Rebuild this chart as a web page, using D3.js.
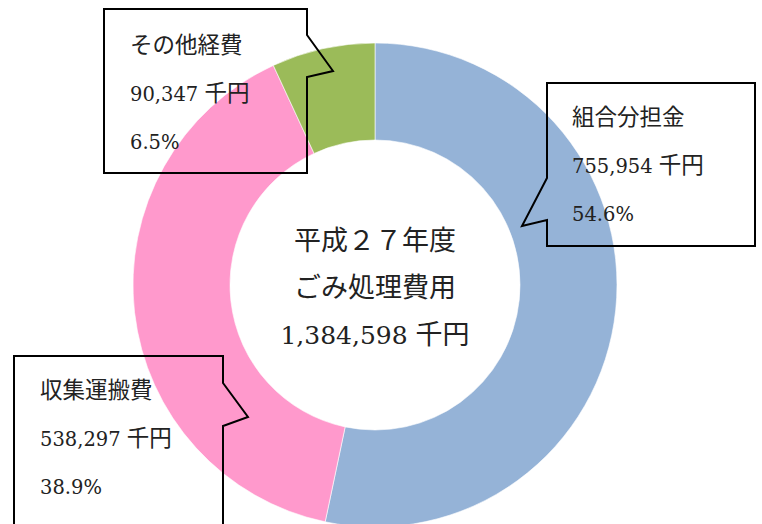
<!DOCTYPE html>
<html>
<head>
<meta charset="utf-8">
<script src="https://cdn.jsdelivr.net/npm/d3@7"></script>
<style>
  body { margin: 0; background: #fff; }
  svg { display: block; }
  text { fill: #222; }
</style>
</head>
<body>
<svg width="762" height="524"></svg>
<script>
// データ
var names = ["組合分担金", "収集運搬費", "その他経費"]
var values = [755954, 538297, 90347]
var percents = ["54.6%", "38.9%", "6.5%"]
// 図に描かれている扇形の割合
var drawnShare = [53.3, 39.8, 6.9]
var colors = ["#95B3D7", "#FF99CC", "#9BBB59"]
var centerLines = ["平成２７年度", "ごみ処理費用", "1,384,598 千円"]

var svg = d3.select("svg")
var cx = 375, cy = 285

var pie = d3.pie().sort(null).value(d => d)
var arc = d3.arc().innerRadius(145).outerRadius(242)

var ring = svg.append("g").attr("transform", "translate(" + cx + "," + cy + ")")
ring.selectAll("path").data(pie(drawnShare))
  .enter().append("path")
  .attr("d", arc)
  .attr("fill", (d, i) => colors[i])
  .attr("stroke", "#fff")
  .attr("stroke-width", 0.6)

// 英数字とそれ以外で書体を分ける
function addText(sel, str, cjkSize, numSize) {
  var runs = str.match(/[\x20-\x7e]+|[^\x20-\x7e]+/g)
  runs.forEach(r => {
    var ascii = /^[\x20-\x7e]+$/.test(r)
    sel.append("tspan")
      .attr("font-family", ascii ? "'DejaVu Serif', serif" : "'Noto Sans CJK JP', sans-serif")
      .attr("font-size", ascii ? numSize : cjkSize)
      .text(r)
  })
}

// 中央の文字
svg.append("g").selectAll("text").data(centerLines)
  .enter().append("text")
  .attr("x", cx)
  .attr("y", (d, i) => 250 + i * 47)
  .attr("text-anchor", "middle")
  .each(function(d) { addText(d3.select(this), d, 27, 25) })

// 吹き出し
var callouts = [
  { i: 0, box: [547, 83, 755, 246], tx: 572, ty: 125,
    shape: b => [[b[0], b[1]], [b[2], b[1]], [b[2], b[3]], [b[0], b[3]], [b[0], 220], [522, 226], [b[0], 178]] },
  { i: 1, box: [14, 356, 223, 540], tx: 40, ty: 398,
    shape: b => [[b[0], b[1]], [b[2], b[1]], [b[2], 383], [248, 417], [b[2], 426], [b[2], b[3]], [b[0], b[3]]] },
  { i: 2, box: [104, 9, 307, 173], tx: 130, ty: 53,
    shape: b => [[b[0], b[1]], [b[2], b[1]], [b[2], 35], [333, 71], [b[2], 77], [b[2], b[3]], [b[0], b[3]]] }
]

var line = d3.line()
callouts.forEach(c => {
  var g = svg.append("g")
  g.append("path")
    .attr("d", line(c.shape(c.box)) + "Z")
    .attr("fill", "none")
    .attr("stroke", "#000")
    .attr("stroke-width", 2)
  var lines = [names[c.i], d3.format(",")(values[c.i]) + " 千円", percents[c.i]]
  g.selectAll("text").data(lines)
    .enter().append("text")
    .attr("x", c.tx)
    .attr("y", (d, k) => c.ty + k * 48)
    .each(function(d) { addText(d3.select(this), d, 22.5, 19.5) })
})
</script>
</body>
</html>
